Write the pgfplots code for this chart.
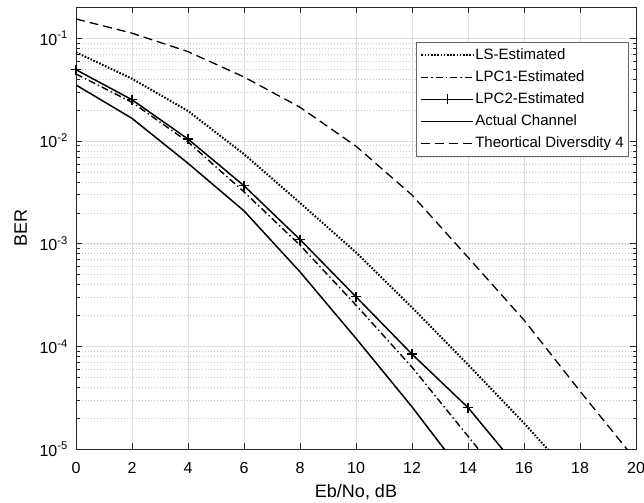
\documentclass[border=0pt]{standalone}
\usepackage{fontspec}
\setmainfont{Liberation Sans}
\usepackage{pgfplots}
\pgfplotsset{compat=1.18}
\definecolor{axgray}{RGB}{38,38,38}
\definecolor{gridgray}{RGB}{222,222,222}
\definecolor{mgridgray}{RGB}{200,200,200}
\begin{document}
\begin{tikzpicture}
\begin{axis}[
  name=ax,
  scale only axis,
  width=560pt, height=442pt,
  ymode=log,
  xmin=0, xmax=20, ymin=1e-5, ymax=0.2,
  xtick={0,2,...,20},
  ytick={1e-5,1e-4,1e-3,1e-2,1e-1},
  yticklabels={{10\textsuperscript{-5}},{10\textsuperscript{-4}},{10\textsuperscript{-3}},{10\textsuperscript{-2}},{10\textsuperscript{-1}}},
  /pgf/number format/assume math mode=true,
  tick label style={font=\fontsize{16}{19}\selectfont},
  xticklabel style={inner sep=0pt, anchor=north, yshift=-13pt},
  yticklabel style={inner sep=0pt, anchor=east, xshift=-8pt},
  tick align=inside,
  major tick length=6pt, minor tick length=3.5pt,
  tick style={axgray, line width=0.6pt},
  axis line style={axgray, line width=0.8pt},
  xmajorgrids, ymajorgrids, yminorgrids,
  major grid style={gridgray, line width=0.6pt},
  minor grid style={mgridgray, line width=0.5pt, dash pattern=on 0.5pt off 2.5pt},
  xlabel={Eb/No, dB},
  ylabel={BER},
  label style={font=\fontsize{18}{21}\selectfont},
  xlabel style={inner sep=0pt, anchor=base, at={(axis description cs:0.5,0)}, yshift=-48pt},
  ylabel style={inner sep=0pt, anchor=south, at={(axis description cs:0,0.5)}, yshift=49pt},
  legend image code/.code={\draw[mark repeat=2,mark phase=2,#1] plot coordinates {(0pt,0pt) (26pt,0pt) (52pt,0pt)};},
  legend cell align=left,
  legend style={at={(axis description cs:0.9875,0.9215)}, anchor=north east,
    draw=black!60, line width=0.6pt, fill=white,
    font=\fontsize{15}{18}\selectfont,
    inner xsep=4pt, inner ysep=2pt, row sep=0pt,
    nodes={inner xsep=1pt, inner ysep=2pt, text height=13pt, text depth=5pt}},
]
\addplot[black, line width=2pt, dash pattern=on 1.6pt off 1.6pt] coordinates {
 (0,0.073) (2,0.0404) (4,0.0196) (6,0.00746) (8,0.0025) (10,0.000824) (12,0.00024) (14,6.67e-5) (16,1.8e-5) (18,4.5e-6)};
\addlegendentry{LS-Estimated}
\addplot[black, line width=1.4pt, dash pattern=on 7pt off 3pt on 1.4pt off 3pt] coordinates {
 (0,0.0449) (2,0.0238) (4,0.0098) (6,0.0032) (8,0.00097) (10,0.000253) (12,6.3e-5) (14,1.34e-5) (16,2.85e-6)};
\addlegendentry{LPC1-Estimated}
\addplot[black, line width=1.5pt, mark=+, mark size=5pt, mark options={solid, line width=1.4pt}] coordinates {
 (0,0.0494) (2,0.0252) (4,0.01045) (6,0.00367) (8,0.0011) (10,0.000305) (12,8.43e-5) (14,2.55e-5) (16,5.6e-6)};
\addlegendentry{LPC2-Estimated}
\addplot[black, line width=1.5pt] coordinates {
 (0,0.0351) (2,0.0166) (4,0.00607) (6,0.00209) (8,0.000533) (10,0.00012) (12,2.59e-5) (14,5e-6)};
\addlegendentry{Actual Channel}
\addplot[black, line width=1.3pt, dash pattern=on 9pt off 5pt] coordinates {
 (0,0.154) (2,0.112) (4,0.0741) (6,0.042) (8,0.0213) (10,0.0089) (12,0.00298) (14,0.000738) (16,0.000181) (18,3.68e-5) (20,7.8e-6)};
\addlegendentry{Theortical Diversdity 4}
\end{axis}
\pgfresetboundingbox
\path ([shift={(-76pt,-53pt)}]ax.south west) rectangle ([shift={(8pt,7.3pt)}]ax.north east);
\end{tikzpicture}
\end{document}
